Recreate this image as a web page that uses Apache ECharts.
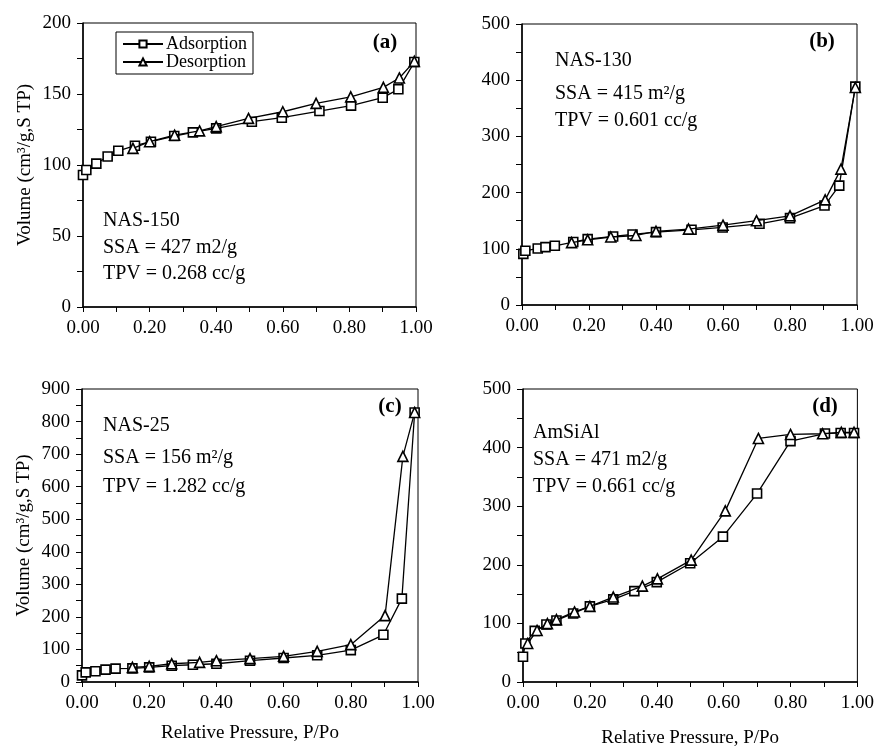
<!DOCTYPE html>
<html>
<head>
<meta charset="utf-8">
<script src="https://cdn.jsdelivr.net/npm/echarts@6/dist/echarts.min.js"></script>
<style>
html,body{margin:0;padding:0;background:#fff;}
#chart{width:877px;height:749px;}
</style>
</head>
<body>
<div id="chart"></div>
<script>
// Panel (a) NAS-150
var aAdsX = [0.0, 0.01, 0.04, 0.074, 0.106, 0.156, 0.204, 0.274, 0.33, 0.40, 0.507, 0.597, 0.71, 0.805, 0.90, 0.947, 0.995];
var aAdsY = [93, 96.5, 101, 106, 110, 113.6, 116.4, 120.4, 123, 125.8, 130.5, 133.3, 138, 141.8, 147.4, 153.3, 172.5];
var aDesX = [0.995, 0.95, 0.902, 0.804, 0.70, 0.60, 0.497, 0.40, 0.35, 0.275, 0.20, 0.15];
var aDesY = [173, 161.3, 154.7, 148, 143.4, 137.5, 132.8, 127, 124, 121, 116.4, 111.7];
// Panel (b) NAS-130
var bAdsX = [0.004, 0.01, 0.047, 0.07, 0.098, 0.153, 0.196, 0.272, 0.33, 0.40, 0.506, 0.599, 0.709, 0.80, 0.903, 0.947, 0.995];
var bAdsY = [91, 96.5, 100.6, 103, 105.4, 112, 117.3, 122, 125.5, 129.7, 133.8, 138, 144.5, 154.6, 177, 212.5, 388.5];
var bDesX = [0.995, 0.952, 0.905, 0.80, 0.70, 0.60, 0.497, 0.40, 0.34, 0.265, 0.196, 0.148];
var bDesY = [387, 241.7, 187, 158.7, 150, 142, 135, 131, 123.7, 121, 116, 111];
// Panel (c) NAS-25
var cAdsX = [0.0, 0.011, 0.04, 0.07, 0.10, 0.15, 0.20, 0.267, 0.33, 0.40, 0.50, 0.60, 0.70, 0.80, 0.897, 0.952, 0.99];
var cAdsY = [20.5, 29.7, 32.8, 37.9, 41, 42, 45, 50, 53, 56, 65.5, 73.7, 82, 98, 145, 256, 828];
var cDesX = [0.99, 0.955, 0.902, 0.80, 0.70, 0.60, 0.50, 0.40, 0.35, 0.267, 0.20, 0.15];
var cDesY = [828, 693, 204, 114.7, 94, 79, 71.7, 65.5, 60.4, 56, 48, 45];
// Panel (d) AmSiAl
var dAdsX = [0.0, 0.007, 0.035, 0.07, 0.10, 0.15, 0.20, 0.27, 0.333, 0.40, 0.50, 0.598, 0.70, 0.80, 0.903, 0.95, 0.99];
var dAdsY = [43, 65.7, 87.2, 98, 105, 117, 129, 141, 155, 170.4, 202.7, 248, 321.6, 411, 424, 425, 425];
var dDesX = [0.99, 0.952, 0.896, 0.80, 0.704, 0.605, 0.503, 0.402, 0.357, 0.27, 0.20, 0.154, 0.10, 0.073, 0.042, 0.014];
var dDesY = [426, 426, 423.6, 422.4, 415.6, 292, 208, 176, 163.6, 145, 129, 119.5, 106.5, 99.7, 88, 65.7];

var xTicks = [0, 0.2, 0.4, 0.6, 0.8, 1.0];
var yMax = [200, 500, 900, 500];
var yStep = [50, 100, 100, 100];
var panelLetters = ['(a)', '(b)', '(c)', '(d)'];
var panelText = [
  ['NAS-150', 'SSA = 427 m2/g', 'TPV = 0.268 cc/g'],
  ['NAS-130', 'SSA = 415 m\u00B2/g', 'TPV = 0.601 cc/g'],
  ['NAS-25', 'SSA = 156 m\u00B2/g', 'TPV = 1.282 cc/g'],
  ['AmSiAl', 'SSA = 471 m2/g', 'TPV = 0.661 cc/g']
];
var seriesNames = ['Adsorption', 'Desorption'];
var yName = 'Volume (cm\u00B3/g,S TP)';
var xName = 'Relative Pressure, P/Po';

function pairs(xs, ys) { return xs.map(function (x, i) { return [x, ys[i]]; }); }

var FONT = 'Liberation Serif';
var grids = [
  { left: 83, top: 23, width: 333, height: 284 },
  { left: 522, top: 24, width: 335, height: 281 },
  { left: 82, top: 389, width: 336, height: 293 },
  { left: 523, top: 389, width: 335, height: 295 }
];
grids.forEach(function (g) { g.show = true; g.borderColor = '#000'; g.borderWidth = 1; g.backgroundColor = 'transparent'; });

var xAxes = [], yAxes = [];
for (var i = 0; i < 4; i++) {
  xAxes.push({
    type: 'value', gridIndex: i, min: 0, max: 1, interval: 0.2,
    name: (i >= 2) ? xName : '', nameLocation: 'middle', nameGap: (i === 2 ? 42 : 47),
    nameTextStyle: { fontFamily: FONT, fontSize: 19, color: '#000' },
    axisLine: { show: true, lineStyle: { color: '#000', width: 1.5 } },
    axisTick: { show: true, length: 5, lineStyle: { color: '#000' } },
    minorTick: { show: true, splitNumber: 2, length: 5, lineStyle: { color: '#000' } },
    splitLine: { show: false },
    axisLabel: { fontFamily: FONT, fontSize: 19, color: '#000', margin: 12,
      formatter: function (v) { return v.toFixed(2); } }
  });
  yAxes.push({
    type: 'value', gridIndex: i, min: 0, max: yMax[i], interval: yStep[i],
    name: (i === 0 || i === 2) ? yName : '', nameLocation: 'middle', nameGap: 48, nameRotate: 90,
    nameTextStyle: { fontFamily: FONT, fontSize: 19, color: '#000' },
    axisLine: { show: true, lineStyle: { color: '#000', width: 1.5 } },
    axisTick: { show: true, length: 6, lineStyle: { color: '#000' } },
    minorTick: { show: true, splitNumber: 2, length: 6, lineStyle: { color: '#000' } },
    splitLine: { show: false },
    axisLabel: { fontFamily: FONT, fontSize: 19, color: '#000', margin: 12 }
  });
}

var data = [
  [pairs(aAdsX, aAdsY), pairs(aDesX, aDesY)],
  [pairs(bAdsX, bAdsY), pairs(bDesX, bDesY)],
  [pairs(cAdsX, cAdsY), pairs(cDesX, cDesY)],
  [pairs(dAdsX, dAdsY), pairs(dDesX, dDesY)]
];
var series = [];
for (var p = 0; p < 4; p++) {
  for (var s = 0; s < 2; s++) {
    series.push({
      type: 'line', name: seriesNames[s], xAxisIndex: p, yAxisIndex: p,
      data: data[p][s],
      symbol: s === 0 ? 'rect' : 'triangle',
      symbolSize: s === 0 ? 9 : 10,
      showAllSymbol: true,
      lineStyle: { color: '#000', width: 1.3 },
      itemStyle: { color: '#fff', borderColor: '#000', borderWidth: 1.6 },
      emphasis: { disabled: true },
      animation: false, z: 2 + s
    });
  }
}

var textPos = [
  { x: 103, y: [222, 249, 275], lx: 385, ly: 43 },
  { x: 555, y: [62, 95, 122], lx: 822, ly: 42 },
  { x: 103, y: [427, 459, 488], lx: 390, ly: 407 },
  { x: 533, y: [434, 461, 488], lx: 825, ly: 407 }
];
var graphics = [];
for (var p = 0; p < 4; p++) {
  for (var k = 0; k < 3; k++) {
    graphics.push({ type: 'text', left: textPos[p].x, top: textPos[p].y[k] - 11,
      style: { text: panelText[p][k], font: '20px "Liberation Serif"', fill: '#000' } });
  }
  graphics.push({ type: 'text', x: textPos[p].lx, y: textPos[p].ly,
    style: { text: panelLetters[p], font: 'bold 21px "Liberation Serif"', fill: '#000', align: 'center', verticalAlign: 'middle' } });
}

var chart = echarts.init(document.getElementById('chart'), null, { renderer: 'canvas' });
chart.setOption({
  animation: false,
  backgroundColor: '#fff',
  grid: grids,
  xAxis: xAxes,
  yAxis: yAxes,
  legend: {
    data: seriesNames, orient: 'vertical', left: 116, top: 32,
    borderColor: '#000', borderWidth: 1, padding: [3, 6, 3, 6], itemGap: 0,
    itemWidth: 40, itemHeight: 9,
    textStyle: { fontFamily: FONT, fontSize: 18, color: '#000', padding: [0, 0, 0, -2] },
    selectedMode: false
  },
  series: series,
  graphic: graphics
});
</script>
</body>
</html>
